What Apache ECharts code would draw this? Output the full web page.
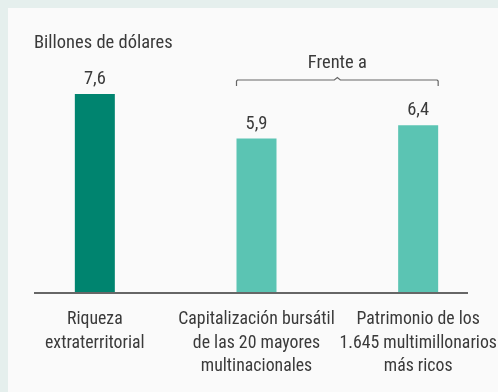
<!DOCTYPE html>
<html>
<head>
<meta charset="utf-8">
<script src="https://cdn.jsdelivr.net/npm/echarts@6/dist/echarts.min.js"></script>
<style>
  html, body { margin: 0; padding: 0; background: #e5efed; }
  #frame { position: absolute; left: 8px; top: 8px; width: 490px; height: 384px; background: #fafafa; }
  #chart { position: absolute; left: 0; top: 0; width: 498px; height: 392px; }
</style>
</head>
<body>
<div id="frame"></div>
<div id="chart"></div>
<script>
const categories = [
  'Riqueza\nextraterritorial',
  'Capitalización bursátil\nde las 20 mayores\nmultinacionales',
  'Patrimonio de los\n1.645 multimillonarios\nmás ricos'
];
const values = [7.6, 5.9, 6.4];
const labels = ['7,6', '5,9', '6,4'];
const barColors = ['#00846f', '#5bc4b3', '#5bc4b3'];
const unitTitle = 'Billones de dólares';
const bracketTitle = 'Frente a';

const FONT = "'Roboto Condensed', 'Liberation Sans Narrow', 'Arial Narrow', Roboto, sans-serif";
const TEXT = '#3a3a3a';
const FS = 18.5;
const FS_CAT = 17.8;

const chart = echarts.init(document.getElementById('chart'), null, { renderer: 'canvas' });

const option = {
  backgroundColor: 'transparent',
  animation: false,
  textStyle: { fontFamily: FONT },
  grid: { left: 14, width: 485, top: 31, bottom: 99, containLabel: false, outerBoundsMode: 'none' },
  xAxis: {
    type: 'category',
    data: categories,
    axisLine: { show: false },
    axisTick: { show: false },
    axisLabel: {
      interval: 0,
      margin: 15,
      color: TEXT,
      fontFamily: FONT,
      fontSize: FS_CAT,
      lineHeight: 23.5,
      align: 'center'
    }
  },
  yAxis: {
    type: 'value',
    min: 0,
    max: 10,
    show: false
  },
  series: [{
    type: 'bar',
    barWidth: 40,
    data: values.map((v, i) => ({ value: v, itemStyle: { color: barColors[i] } })),
    label: {
      show: true,
      position: 'top',
      distance: 5,
      color: TEXT,
      fontFamily: FONT,
      fontSize: FS,
      formatter: p => labels[p.dataIndex]
    }
  }]
};
chart.setOption(option);

// Baseline, unit title and the "Frente a" bracket over the last two bars
function drawOverlay() {
  const base = chart.convertToPixel({ gridIndex: 0 }, [0, 0]);
  const p1 = chart.convertToPixel({ gridIndex: 0 }, [1, values[1]]);
  const p2 = chart.convertToPixel({ gridIndex: 0 }, [2, values[2]]);
  const half = 20;
  const x0 = p1[0] - half, x1 = p2[0] + half;
  const xm = (x0 + x1) / 2;
  const by = 80;
  chart.setOption({
    graphic: [
      {
        type: 'line', z: 10,
        shape: { x1: 34, y1: base[1], x2: 468, y2: base[1] },
        style: { stroke: '#666666', lineWidth: 2 }
      },
      {
        type: 'text', left: 34, top: 34,
        style: { text: unitTitle, fill: TEXT, font: FS + 'px ' + FONT }
      },
      {
        type: 'text', z: 10,
        x: xm, y: by - 7,
        style: { text: bracketTitle, fill: TEXT, font: FS + 'px ' + FONT, align: 'center', verticalAlign: 'bottom' }
      },
      {
        type: 'polyline', z: 10,
        shape: { points: [[x0, by + 6], [x0, by + 1], [x0 + 1, by], [xm - 3, by], [xm, by - 2.5], [xm + 3, by], [x1 - 1, by], [x1, by + 1], [x1, by + 6]] },
        style: { stroke: '#666666', lineWidth: 1.2, fill: null }
      }
    ]
  });
}
drawOverlay();
</script>
</body>
</html>
